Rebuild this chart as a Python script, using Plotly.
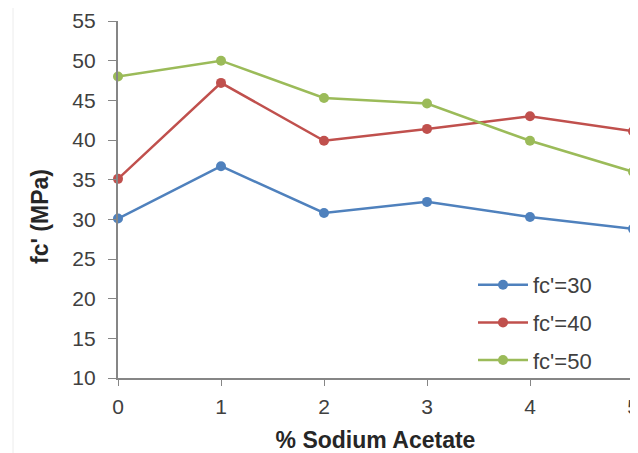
import plotly.graph_objects as go

x_vals = [0, 1, 2, 3, 4, 5]
fc30 = [30.1, 36.7, 30.8, 32.2, 30.3, 28.8]
fc40 = [35.1, 47.2, 39.9, 41.4, 43.0, 41.1]
fc50 = [48.0, 50.0, 45.3, 44.6, 39.9, 36.0]
names = ["fc'=30", "fc'=40", "fc'=50"]
colors = ["#4F81BD", "#C0504D", "#9BBB59"]

W, H = 630, 445
L, R, T, B = 110, 5, 13, 75
pw, ph = W - L - R, H - T - B

fig = go.Figure()
for ys, nm, c in zip([fc30, fc40, fc50], names, colors):
    fig.add_trace(go.Scatter(
        x=x_vals, y=ys, name=nm, mode="lines+markers",
        legendgroup=nm,
        line=dict(color=c, width=2.5),
        marker=dict(color=c, size=10),
        cliponaxis=False,
    ))

font_fam = "Liberation Sans, Arial, sans-serif"
fig.update_layout(
    width=W, height=H,
    margin=dict(l=L, r=R, t=T, b=B),
    paper_bgcolor="white", plot_bgcolor="white",
    font=dict(family=font_fam, size=21, color="#404040"),
    showlegend=True,
    legend=dict(x=(465 - L) / pw, y=(H - B - 256) / ph, xanchor="left", yanchor="top",
                bgcolor="rgba(0,0,0,0)", font=dict(size=22, color="#404040"),
                tracegroupgap=6, itemwidth=50),
    xaxis=dict(range=[0, 5], tickvals=x_vals, showgrid=False, zeroline=False,
               showline=True, linecolor="#868686", linewidth=1.5,
               ticks="outside", ticklen=6, tickcolor="#868686",
               ticklabelstandoff=3, automargin=False, ticklabeloverflow="allow",
               title=dict(text="<b>% Sodium Acetate</b>", font=dict(size=23, color="#262626"), standoff=22)),
    yaxis=dict(range=[10, 55], dtick=5, showgrid=False, zeroline=False,
               showline=True, linecolor="#868686", linewidth=1.5,
               ticks="outside", ticklen=8, tickcolor="#868686",
               ticksuffix="\u2009\u2009", automargin=False),
    annotations=[dict(text="<b>fc' (MPa)</b>", textangle=-90, xref="paper", yref="paper",
                      x=(32 - L) / pw, y=(H - B - (217 - 8)) / ph, xanchor="center", yanchor="middle",
                      showarrow=False, font=dict(size=23, color="#262626"))],
    shapes=[dict(type="line", xref="paper", yref="paper", x0=(5 - L) / pw, x1=(5 - L) / pw,
                 y0=-B / ph, y1=1 + T / ph, line=dict(color="#ececec", width=1))],
)

fig.write_html("out.html")
